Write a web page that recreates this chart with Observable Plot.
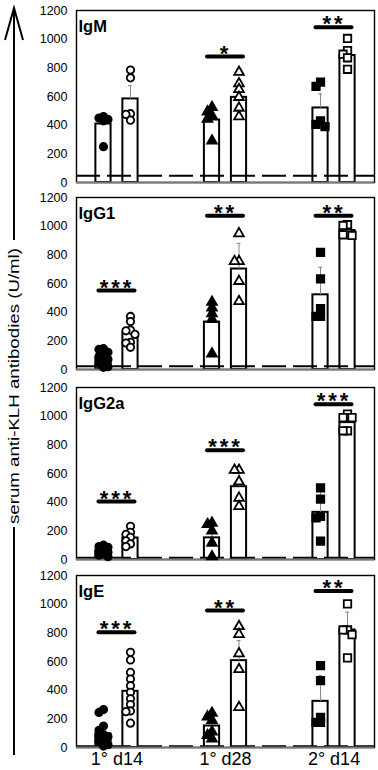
<!DOCTYPE html>
<html><head><meta charset="utf-8">
<script src="https://cdn.jsdelivr.net/npm/d3@7"></script>
<script src="https://cdn.jsdelivr.net/npm/@observablehq/plot@0.6"></script>
<style>
html,body{margin:0;padding:0;background:#fff;}
#wrap{position:relative;width:378px;height:770px;overflow:hidden;font-family:"Liberation Sans",Arial,sans-serif;}
#wrap svg{position:absolute;left:0;overflow:visible;}
</style></head><body><div id="wrap"></div>
<script>
// ---------- data ----------
const groups = ["1° d14", "1° d28", "2° d14"];
const isotypes = ["IgM", "IgG1", "IgG2a", "IgE"];
const yTicks = [0, 200, 400, 600, 800, 1000, 1200];
const cutoffs = [47, 23, 12, 8];
const yTitle = "serum anti-KLH antibodies (U/ml)";

// bar order: [d14 pre, d14 post, d28 pre, d28 post, 2°d14 pre, 2°d14 post]
const IgM_mean = [408, 583, 436, 594, 520, 886];
const IgM_sd = [40, 93, 40, 117, 98, 50];
const IgM_pts = [[460, 450, 440, 430, 250], [785, 730, 480, 475, 435], [524, 494, 466, 443, 291], [770, 690, 650, 595, 520, 460], [700, 670, 430, 405, 390], [1005, 920, 895, 870, 790]];
const IgM_stars = ["", "*", "**"];
const IgM_starY = [null, 879, 1083];

const IgG1_mean = [80, 255, 331, 701, 521, 970];
const IgG1_sd = [25, 55, 70, 179, 192, 20];
const IgG1_pts = [[145, 140, 120, 100, 90, 70, 50, 40, 20, 15], [370, 335, 275, 270, 245, 190, 185, 155], [470, 430, 390, 350, 110], [949, 755, 755, 616, 475], [817, 632, 424, 370, 370], [1010, 1005, 950, 940, 935]];
const IgG1_stars = ["***", "**", "**"];
const IgG1_starY = [551, 1072, 1072];

const IgG2a_mean = [60, 150, 151, 508, 329, 955];
const IgG2a_sd = [15, 25, 45, 100, 150, 25];
const IgG2a_pts = [[100, 90, 85, 70, 60, 50, 40, 30, 20], [232, 190, 175, 155, 130, 109, 90], [255, 245, 200, 115, 20], [624, 624, 543, 429, 371], [499, 422, 300, 290, 128], [1014, 990, 990, 898, 898]];
const IgG2a_stars = ["***", "***", "***"];
const IgG2a_starY = [404, 763, 1083];

const IgE_mean = [95, 392, 150, 606, 322, 820];
const IgE_sd = [30, 55, 35, 140, 179, 124];
const IgE_pts = [[265, 245, 150, 120, 90, 80, 75, 50, 40, 20, 10], [664, 611, 524, 478, 431, 385, 340, 300, 255, 250, 170], [240, 215, 190, 110, 85, 60], [845, 790, 655, 545, 280], [571, 466, 210, 175, 175], [1002, 820, 820, 788, 625]];
const IgE_stars = ["***", "**", "**"];
const IgE_starY = [804, 956, 1091];

const panels = [
  {name: isotypes[0], mean: IgM_mean, sd: IgM_sd, pts: IgM_pts, stars: IgM_stars, starY: IgM_starY, cut: cutoffs[0]},
  {name: isotypes[1], mean: IgG1_mean, sd: IgG1_sd, pts: IgG1_pts, stars: IgG1_stars, starY: IgG1_starY, cut: cutoffs[1]},
  {name: isotypes[2], mean: IgG2a_mean, sd: IgG2a_sd, pts: IgG2a_pts, stars: IgG2a_stars, starY: IgG2a_starY, cut: cutoffs[2]},
  {name: isotypes[3], mean: IgE_mean, sd: IgE_sd, pts: IgE_pts, stars: IgE_stars, starY: IgE_starY, cut: cutoffs[3]}
];

// ---------- layout ----------
const W = 378, ML = 76, MR = 4, MT = 10, PH = 172;
const xDomain = [-0.373, 2.373];
const pxPerX = (W - ML - MR) / (xDomain[1] - xDomain[0]);
const pxPerY = PH / 1200;
const barOff = 13.5 / pxPerX, barHalf = 7.6 / pxPerX, capHalf = 2 / pxPerX, sigHalf = 18 / pxPerX;
const symbols = ["circle", "triangle", "square"];
const symR = [3.7, 3.6, 4.2];
const tops = [0, 187, 377, 565];

function dodge(vals) {
  const order = vals.map((v, i) => i).sort((a, b) => vals[b] - vals[a]);
  const placed = [], off = vals.map(() => 0);
  const cands = [0, -4.5, 4.5];
  for (const i of order) {
    const py = vals[i] * pxPerY;
    let best = 0, bestD = -1;
    for (const c of cands) {
      const d = placed.length ? Math.min(...placed.map(p => Math.hypot(p.x - c, p.y - py))) : Infinity;
      if (d >= 5) { best = c; bestD = d; break; }
      if (d > bestD) { bestD = d; best = c; }
    }
    off[i] = best; placed.push({x: best, y: py});
  }
  return off;
}

const wrap = document.getElementById("wrap");

panels.forEach((P, pi) => {
  const last = pi === panels.length - 1;
  const bars = P.mean.map((m, i) => {
    const g = Math.floor(i / 2), s = i % 2;
    const cx = g + (s ? barOff : -barOff);
    return {g, s, cx, x1: cx - barHalf, x2: cx + barHalf, mean: m, top: m + P.sd[i]};
  });
  const points = [];
  P.pts.forEach((vals, i) => {
    const b = bars[i];
    const off = dodge(vals);
    vals.forEach((v, j) => points.push({g: b.g, x: b.cx + off[j] / pxPerX, v, fill: b.s ? "white" : "black"}));
  });
  const sig = P.stars.map((t, g) => ({g, t, y: P.starY[g]})).filter(d => d.t);

  const marks = [
    Plot.rectY(bars, {x1: "x1", x2: "x2", y1: 0, y2: "mean", fill: "white", stroke: "black", strokeWidth: 2}),
    Plot.ruleX(bars, {x: "cx", y1: "mean", y2: "top", stroke: "#888", strokeWidth: 1}),
    Plot.ruleY(bars, {y: "top", x1: d => d.cx - capHalf, x2: d => d.cx + capHalf, stroke: "#888", strokeWidth: 1}),
    Plot.ruleY([P.cut], {stroke: "black", strokeWidth: 2, strokeDasharray: "24,7"}),
    Plot.frame({stroke: "black", strokeWidth: 1.4}),
    Plot.ruleY([0], {stroke: "#777", strokeWidth: 2}),
    ...symbols.map((sym, g) => Plot.dot(points.filter(d => d.g === g), {x: "x", y: "v", symbol: () => sym, fill: "fill", stroke: "black", strokeWidth: 1.8, r: symR[g]})),
    Plot.ruleY(sig, {y: "y", x1: d => d.g - sigHalf, x2: d => d.g + sigHalf, stroke: "black", strokeWidth: 4, strokeLinecap: "round"}),
    Plot.text(sig, {x: "g", y: "y", text: "t", dy: -3, lineAnchor: "middle", fontSize: 22, fontWeight: "bold", fill: "black"}),
    Plot.text([P.name], {frameAnchor: "top-left", dx: 2, dy: 10, lineAnchor: "top", fontSize: 16.5, fontWeight: "bold", fill: "black"}),
    Plot.axisY(yTicks, {tickSize: 0, tickPadding: 9, fontSize: 12.5, tickFormat: d => String(d), label: null})
  ];
  if (last) marks.push(Plot.axisX([0, 1, 2], {tickFormat: i => groups[i], tickSize: 0, tickPadding: 5, fontSize: 18, label: null}));

  const H = last ? 205 : 190;
  const chart = Plot.plot({
    width: W, height: H,
    marginLeft: ML, marginRight: MR, marginTop: MT, marginBottom: H - MT - PH,
    style: {fontFamily: "'Liberation Sans', Arial, sans-serif", background: "transparent", color: "black"},
    x: {domain: xDomain, axis: null},
    y: {domain: [0, 1200], axis: null},
    marks
  });
  d3.select(chart).selectAll("text").filter(function () { return /^\*+$/.test(this.textContent); }).attr("letter-spacing", "3px");
  chart.style.top = tops[pi] + "px";
  wrap.appendChild(chart);
});

// y-axis title with arrow
const t = d3.create("svg").attr("width", 40).attr("height", 770).style("top", "0px");
t.append("path").attr("d", "M5,40 L14,8 L23,40").attr("fill", "none").attr("stroke", "black").attr("stroke-width", 2);
t.append("line").attr("x1", 14).attr("x2", 14).attr("y1", 9).attr("y2", 240).attr("stroke", "black").attr("stroke-width", 2);
t.append("line").attr("x1", 14).attr("x2", 14).attr("y1", 527).attr("y2", 755).attr("stroke", "black").attr("stroke-width", 2);
t.append("text").attr("transform", "translate(19,386) rotate(-90)").attr("text-anchor", "middle")
  .attr("font-size", 15).attr("font-family", "'Liberation Sans', Arial, sans-serif")
  .attr("textLength", 276).attr("lengthAdjust", "spacingAndGlyphs").text(yTitle);
wrap.appendChild(t.node());
</script></body></html>
